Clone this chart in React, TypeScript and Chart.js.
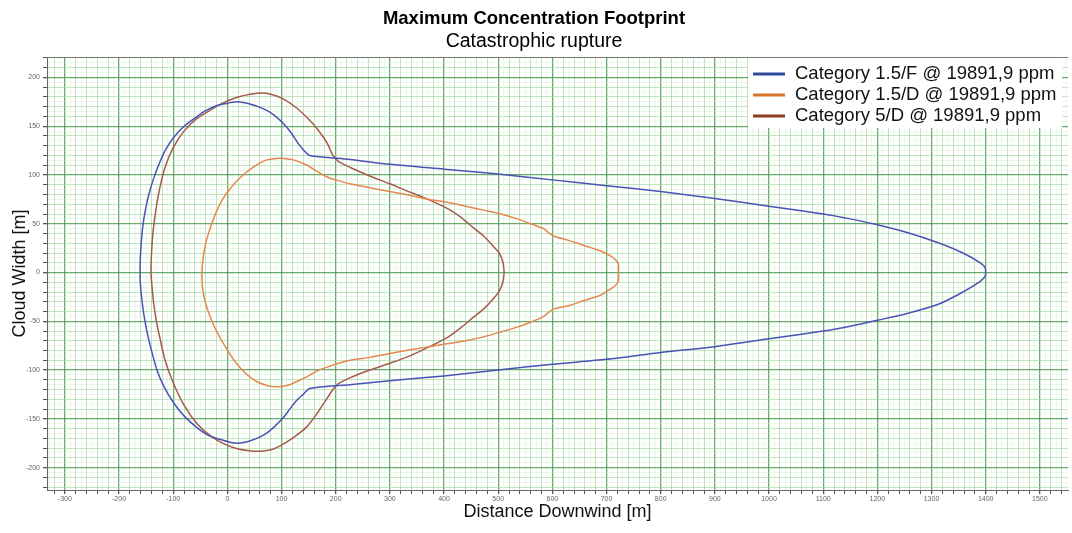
import React, { useEffect, useRef } from 'react';
import { Chart, registerables } from 'chart.js';

Chart.register(...registerables);

const FONT = "'Liberation Sans', Arial, Helvetica, sans-serif";

const TITLE = 'Maximum Concentration Footprint';
const SUBTITLE = 'Catastrophic rupture';
const X_TITLE = 'Distance Downwind [m]';
const Y_TITLE = 'Cloud Width [m]';

const seriesLabels = [
  'Category 1.5/F @ 19891,9 ppm',
  'Category 1.5/D @ 19891,9 ppm',
  'Category 5/D @ 19891,9 ppm',
];
const lineColors = ['#4a52b6', '#e5884d', '#a65a4c'];
const legendColors = ['#2f4a9c', '#d8752c', '#8a3c1c'];

// Category 1.5/F contour
const cat15FX = [
  1400, 1399, 1390, 1358, 1315, 1255, 1200, 1150, 1100, 1000, 900, 800, 700, 600, 500, 400, 300, 226, 152,
  140, 130, 118, 103, 85, 66, 40, 17, -5, -20, -40, -56, -80, -100, -115, -127, -137, -145, -151, -156, -159, -161,
  -161, -159, -155, -149, -141, -130, -117, -100, -80, -56, -35, -14, 5, 20, 40, 66, 85, 103, 118, 130, 140, 152,
  226, 300, 400, 500, 600, 700, 800, 900, 1000, 1100, 1150, 1200, 1255, 1315, 1358, 1390, 1399, 1400,
];
const cat15FY = [
  0, 5, 10, 20, 30, 41, 49, 55, 60, 68, 76, 83, 89, 95, 101, 106, 111, 116, 120,
  126, 133, 143, 153, 162, 168, 173, 175, 173, 171, 166, 160, 150, 138, 125, 110, 95, 80, 65, 48, 30, 10,
  -8, -22, -40, -59, -78, -100, -117, -133, -147, -159, -167, -171, -174, -175, -173, -167, -159, -149, -138, -130, -125, -119,
  -115, -111, -106, -100, -94, -89, -82, -76, -68, -60, -55, -49, -42, -32, -20, -9, -4, 0,
];

// Category 1.5/D contour
const cat15DX = [
  722, 722, 715, 707, 690, 657, 630, 605, 595, 584, 560, 535, 505, 473, 440, 405, 362, 330, 300, 263, 226, 200, 184,
  165, 147, 125, 105, 90, 70, 48, 25, 5, -10, -22, -32, -40, -45, -47, -46, -41, -32, -20, -5, 15, 35, 55, 75, 95,
  115, 135, 150, 165, 184, 226, 263, 300, 330, 362, 405, 440, 473, 505, 535, 560, 584, 595, 605, 630, 657, 690, 707,
  715, 722, 722,
];
const cat15DY = [
  0, 9, 14, 17, 22, 28, 33, 37, 40, 45, 50, 55, 60, 64, 68, 72, 76, 80, 83, 87, 91, 95, 98,
  104, 110, 115, 117, 117, 115, 108, 98, 86, 74, 60, 45, 30, 14, -2, -15, -30, -45, -60, -75, -92, -104, -112, -116, -117,
  -115, -110, -106, -101, -97, -90, -87, -83, -80, -77, -73, -70, -66, -61, -56, -51, -45, -40, -37, -34, -29, -23, -17,
  -14, -9, 0,
];

// Category 5/D contour
const cat5DX = [
  511, 509, 503, 491, 474, 454, 430, 405, 362, 330, 300, 263, 226, 205, 195, 184, 165, 147, 125, 103, 85, 66, 45,
  20, -8, -30, -56, -80, -100, -115, -125, -132, -137, -140, -141, -139, -136, -131, -125, -115, -100, -80, -56, -30,
  -5, 20, 45, 66, 85, 103, 125, 147, 165, 184, 195, 205, 226, 263, 300, 330, 362, 405, 430, 454, 474, 491, 503, 509, 511,
];
const cat5DY = [
  0, 10, 19, 27, 37, 46, 57, 66, 77, 84, 91, 99, 108, 114, 120, 133, 148, 159, 170, 178, 182, 184, 183,
  180, 174, 167, 158, 145, 128, 108, 86, 64, 43, 20, 0, -15, -32, -50, -66, -90, -113, -136, -155, -168,
  -176, -181, -183, -183, -181, -176, -168, -158, -145, -129, -120, -114, -108, -100, -93, -87, -79, -67, -57, -46, -37, -27, -18, -9, 0,
];

const xTickLabels = [-300, -200, -100, 0, 100, 200, 300, 400, 500, 600, 700, 800, 900, 1000, 1100, 1200, 1300, 1400, 1500];
const yTickLabels = [-200, -150, -100, -50, 0, 50, 100, 150, 200];

const X_MIN = -333;
const X_MAX = 1552;
const Y_MIN = -223;
const Y_MAX = 221;

function gridValues(min: number, max: number, step: number) {
  const out: number[] = [];
  for (let v = Math.ceil(min / step) * step; v <= max; v += step) out.push(v);
  return out;
}

const toPoints = (xs: number[], ys: number[]) => xs.map((x, i) => ({ x, y: ys[i] }));

const DARK = 'rgba(80,155,80,0.85)';
const MINOR = 'rgba(150,212,150,0.6)';
const FAINT = 'rgba(200,235,200,0.3)';

const boxLegend = {
  id: 'boxLegend',
  afterDraw(chart: any) {
    const ctx = chart.ctx;
    const { right, top, left } = chart.chartArea;
    ctx.save();
    ctx.strokeStyle = '#777';
    ctx.lineWidth = 1;
    ctx.beginPath();
    ctx.moveTo(left, top + 0.5);
    ctx.lineTo(right, top + 0.5);
    ctx.stroke();
    const x0 = right - 320;
    const y0 = top + 1;
    ctx.fillStyle = '#ffffff';
    ctx.fillRect(x0, y0, 314, 70);
    ctx.font = `18.5px ${FONT}`;
    ctx.textBaseline = 'middle';
    ctx.textAlign = 'left';
    chart.data.datasets.forEach((ds: any, i: number) => {
      const y = y0 + 16 + i * 21;
      ctx.strokeStyle = legendColors[i];
      ctx.lineWidth = 3;
      ctx.beginPath();
      ctx.moveTo(x0 + 5, y);
      ctx.lineTo(x0 + 37, y);
      ctx.stroke();
      ctx.fillStyle = '#111';
      ctx.fillText(ds.label, x0 + 47, y);
    });
    ctx.restore();
  },
};

export default function App() {
  const canvasRef = useRef<HTMLCanvasElement | null>(null);

  useEffect(() => {
    if (!canvasRef.current) return;
    const xGrid = gridValues(X_MIN, X_MAX, 10);
    const yGrid = gridValues(Y_MIN, Y_MAX, 5);
    const series = [
      toPoints(cat15FX, cat15FY),
      toPoints(cat15DX, cat15DY),
      toPoints(cat5DX, cat5DY),
    ];
    const chart = new Chart(canvasRef.current, {
      type: 'scatter',
      data: {
        datasets: series.map((pts, i) => ({
          label: seriesLabels[i],
          data: pts,
          showLine: true,
          borderColor: lineColors[i],
          backgroundColor: lineColors[i],
          borderWidth: 1.5,
          pointRadius: 0,
          tension: 0.25,
          fill: false,
        })),
      },
      options: {
        animation: false,
        responsive: true,
        maintainAspectRatio: false,
        devicePixelRatio: 1,
        layout: { padding: { left: 0, right: 4, top: 0, bottom: 0 } },
        plugins: {
          legend: { display: false },
          tooltip: { enabled: false },
          title: {
            display: true,
            text: TITLE,
            color: '#000',
            font: { family: FONT, size: 18.5, weight: 'bold' },
            padding: { top: 8, bottom: 0 },
          },
          subtitle: {
            display: true,
            text: SUBTITLE,
            color: '#000',
            font: { family: FONT, size: 19.5, weight: 'normal' },
            padding: { top: 0, bottom: 3.4 },
          },
        },
        scales: {
          x: {
            type: 'linear',
            min: X_MIN,
            max: X_MAX,
            afterBuildTicks: (s: any) => {
              s.ticks = xGrid.map((v) => ({ value: v }));
            },
            afterFit: (s: any) => {
              s.height = 43;
            },
            ticks: {
              autoSkip: false,
              maxRotation: 0,
              minRotation: 0,
              padding: 1,
              color: '#666',
              font: { family: FONT, size: 7 },
              callback: (v: any) => (xTickLabels.includes(Number(v)) ? String(v) : ''),
            },
            grid: {
              color: (c: any) => {
                const v = c.tick ? c.tick.value : 0;
                if (v % 100 === 0) return DARK;
                if (v % 20 === 0) return MINOR;
                return FAINT;
              },
              lineWidth: (c: any) => (c.tick && c.tick.value % 100 === 0 ? 1.3 : 1),
              tickLength: 4,
              tickColor: (c: any) => (c.tick && c.tick.value % 20 === 0 ? '#555' : 'rgba(0,0,0,0)'),
            },
            border: { display: true, color: '#666', width: 1 },
            title: {
              display: true,
              text: X_TITLE,
              color: '#111',
              font: { family: FONT, size: 18 },
              padding: { top: 0, bottom: 10 },
            },
          },
          y: {
            type: 'linear',
            min: Y_MIN,
            max: Y_MAX,
            afterBuildTicks: (s: any) => {
              s.ticks = yGrid.map((v) => ({ value: v }));
            },
            afterFit: (s: any) => {
              s.width = 47;
            },
            ticks: {
              autoSkip: false,
              padding: 3,
              color: '#666',
              font: { family: FONT, size: 7 },
              callback: (v: any) => (yTickLabels.includes(Number(v)) ? String(v) : ''),
            },
            grid: {
              color: (c: any) => {
                const v = c.tick ? c.tick.value : 0;
                if (v % 50 === 0) return DARK;
                if (v % 10 === 0) return MINOR;
                return FAINT;
              },
              lineWidth: (c: any) => (c.tick && c.tick.value % 50 === 0 ? 1.3 : 1),
              tickLength: 4,
              tickColor: (c: any) => (c.tick && c.tick.value % 10 === 0 ? '#555' : 'rgba(0,0,0,0)'),
            },
            border: { display: true, color: '#666', width: 1 },
            title: {
              display: true,
              text: Y_TITLE,
              color: '#111',
              font: { family: FONT, size: 18 },
              padding: { top: 9, bottom: 0 },
            },
          },
        },
      },
      plugins: [boxLegend],
    });
    return () => chart.destroy();
  }, []);

  return (
    <div style={{ position: 'fixed', left: 0, top: 0, width: 1072, height: 533, background: '#fff' }}>
      <canvas ref={canvasRef} />
    </div>
  );
}
